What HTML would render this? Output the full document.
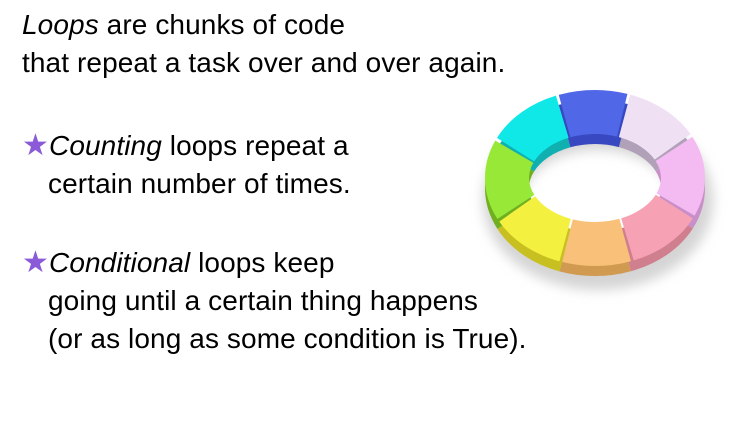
<!DOCTYPE html>
<html><head><meta charset="utf-8"><style>
body{margin:0;width:750px;height:430px;background:#fff;overflow:hidden;position:relative;font-family:"Liberation Sans",sans-serif;color:#000}
.l{position:absolute;font-size:28px;white-space:nowrap;letter-spacing:0.1px}
.s{color:#8a5ad8;font-size:30px}
</style></head><body>
<div class="l" style="left:22px;top:9px"><i>Loops</i> are chunks of code</div>
<div class="l" style="left:22px;top:47px">that repeat a task over and over again.</div>
<div class="l" style="left:22px;top:128px"><span class="s">★</span><i>Counting</i> loops repeat a</div>
<div class="l" style="left:48px;top:168px">certain number of times.</div>
<div class="l" style="left:22px;top:245px"><span class="s">★</span><i>Conditional</i> loops keep</div>
<div class="l" style="left:48px;top:285px">going until a certain thing happens</div>
<div class="l" style="left:48px;top:323px">(or as long as some condition is True).</div>
<svg width="750" height="430" style="position:absolute;left:0;top:0">
<defs><filter id="b" x="-50%" y="-50%" width="200%" height="200%"><feGaussianBlur stdDeviation="6"/></filter></defs>
<ellipse cx="598" cy="200" rx="95" ry="70" fill="none" stroke="#d4d4d4" stroke-width="40" filter="url(#b)"/>
<g fill="none" stroke-width="44">
<ellipse cx="595" cy="188" rx="88" ry="66" pathLength="8" stroke="#b0a0b8" stroke-dasharray="1 7" stroke-dashoffset="1.5"/>
<ellipse cx="595" cy="188" rx="88" ry="66" pathLength="8" stroke="#c98fc8" stroke-dasharray="1 7" stroke-dashoffset="0.5"/>
<ellipse cx="595" cy="188" rx="88" ry="66" pathLength="8" stroke="#d07f8e" stroke-dasharray="1 7" stroke-dashoffset="-0.5"/>
<ellipse cx="595" cy="188" rx="88" ry="66" pathLength="8" stroke="#d09a50" stroke-dasharray="1 7" stroke-dashoffset="-1.5"/>
<ellipse cx="595" cy="188" rx="88" ry="66" pathLength="8" stroke="#c8c020" stroke-dasharray="1 7" stroke-dashoffset="-2.5"/>
<ellipse cx="595" cy="188" rx="88" ry="66" pathLength="8" stroke="#70b020" stroke-dasharray="1 7" stroke-dashoffset="-3.5"/>
<ellipse cx="595" cy="188" rx="88" ry="66" pathLength="8" stroke="#10b0b0" stroke-dasharray="1 7" stroke-dashoffset="-4.5"/>
<ellipse cx="595" cy="188" rx="88" ry="66" pathLength="8" stroke="#3848c0" stroke-dasharray="1 7" stroke-dashoffset="-5.5"/>
</g>
<g fill="none" stroke-width="44">
<ellipse cx="595" cy="178" rx="88" ry="66" pathLength="8" stroke="#f0e0f4" stroke-dasharray="0.96 7.04" stroke-dashoffset="1.5"/>
<ellipse cx="595" cy="178" rx="88" ry="66" pathLength="8" stroke="#f4baf2" stroke-dasharray="0.96 7.04" stroke-dashoffset="0.5"/>
<ellipse cx="595" cy="178" rx="88" ry="66" pathLength="8" stroke="#f6a2b4" stroke-dasharray="0.96 7.04" stroke-dashoffset="-0.5"/>
<ellipse cx="595" cy="178" rx="88" ry="66" pathLength="8" stroke="#f8c078" stroke-dasharray="0.96 7.04" stroke-dashoffset="-1.5"/>
<ellipse cx="595" cy="178" rx="88" ry="66" pathLength="8" stroke="#f4f040" stroke-dasharray="0.96 7.04" stroke-dashoffset="-2.5"/>
<ellipse cx="595" cy="178" rx="88" ry="66" pathLength="8" stroke="#98e838" stroke-dasharray="0.96 7.04" stroke-dashoffset="-3.5"/>
<ellipse cx="595" cy="178" rx="88" ry="66" pathLength="8" stroke="#10e8e8" stroke-dasharray="0.96 7.04" stroke-dashoffset="-4.5"/>
<ellipse cx="595" cy="178" rx="88" ry="66" pathLength="8" stroke="#5068e8" stroke-dasharray="0.96 7.04" stroke-dashoffset="-5.5"/>
</g>
</svg>
</body></html>
